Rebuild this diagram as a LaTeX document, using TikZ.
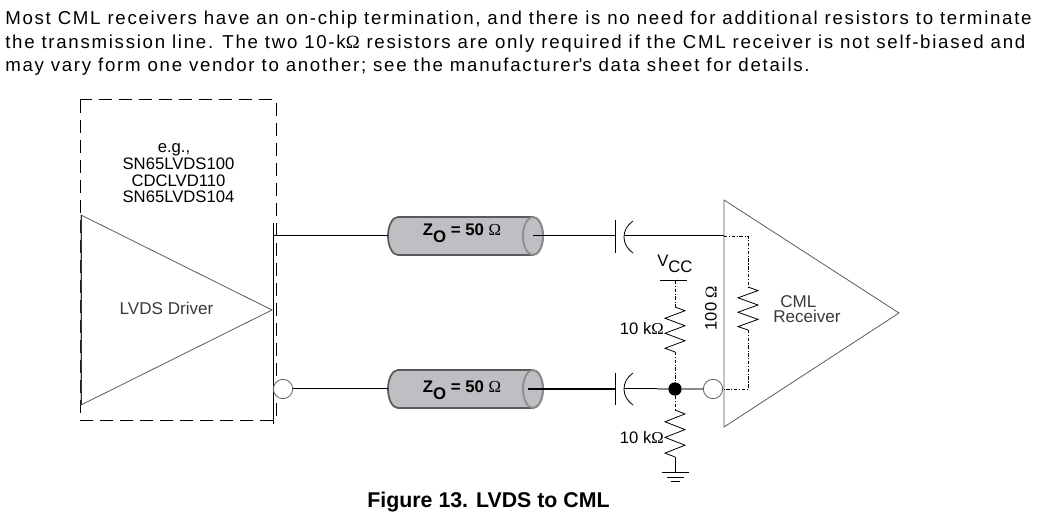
\documentclass[tikz,border=0pt]{standalone}
\usepackage{fontspec}
\setmainfont{Liberation Sans}
\newfontfamily\symf{Liberation Serif}
\newfontfamily\parafont[LetterSpace=9.2]{Liberation Sans}
\definecolor{cylfill}{HTML}{BEBEC3}
\definecolor{cylline}{HTML}{5A5A5A}
\definecolor{cylend}{HTML}{8C8C8C}
\definecolor{tri}{HTML}{5C5C5C}
\definecolor{txtgray}{HTML}{3A3A3A}
\definecolor{wiregray}{HTML}{8A8A8A}
\begin{document}
\begin{tikzpicture}[x=0.75pt,y=-0.75pt,
  wire/.style={line width=0.75pt, black},
  thickwire/.style={line width=1.6pt, black},
  graywire/.style={line width=1pt, wiregray},
  dashdot/.style={line width=0.6pt, dash pattern=on 2.6pt off 1.2pt on 0.8pt off 1.2pt},
  boxdash/.style={line width=0.75pt, dash pattern=on 10pt off 5pt},
  txt/.style={inner sep=0pt, font=\fontsize{12.5pt}{15pt}\selectfont},
  egline/.style={inner sep=0pt, anchor=base, font=\fontsize{12.5pt}{15pt}\selectfont},
  para/.style={inner sep=0pt, anchor=base west, font=\parafont\fontsize{14pt}{16pt}\selectfont},
  bubble/.style={circle, draw=tri, line width=0.6pt, fill=white, inner sep=0pt, minimum size=14.5pt},
  coax/.pic={
    \filldraw[fill=cylfill, draw=cylline, line width=1.3pt]
      (-67.5,-19) -- (67.5,-19) arc[start angle=90, end angle=-90, x radius=7.5pt, y radius=14.25pt]
      -- (-67.5,19) arc[start angle=270, end angle=90, x radius=7.5pt, y radius=14.25pt] -- cycle;
    \draw[cylend, line width=1.3pt] (67.5,0) ellipse[x radius=7.5pt, y radius=14.25pt];
  }]
\useasboundingbox (0,0) rectangle (1043,527);
\fill[white] (0,0) rectangle (1043,527);

% paragraph
\node[para] (p1) at (5,25) {Most CML receivers have an on-chip termination, and there is no need for additional resistors to terminate};
\node[para] (p2) at (5,49) {the transmission line. The two 10-k{\symf Ω} resistors are only required if the CML receiver is not self-biased and};
\node[para] (p3) at (5,72) {may vary form one vendor to another; see the manufacturer\textquotesingle s data sheet for details.};

% caption
\node[inner sep=0pt, anchor=base, font=\bfseries\fontsize{16pt}{18pt}\selectfont] (cap) at (488.5,507) {Figure 13. LVDS to CML};

% dashed box of driver
\draw[boxdash] (80,100) rectangle (276,420);
\node[egline] (eg1) at (174,153) {e.g.,};
\node[egline] (eg2) at (178.5,170) {SN65LVDS100};
\node[egline] (eg3) at (178.5,187) {CDCLVD110};
\node[egline] (eg4) at (178.5,203) {SN65LVDS104};

% driver triangle
\draw[tri, line width=0.6pt] (81,215) -- (272,310) -- (81,405) -- cycle;
\draw[black!80, line width=0.75pt] (81,215) -- (81,405);
\node[txt, text=txtgray, font=\fontsize{12.8pt}{15pt}\selectfont] (drv) at (166.5,308) {LVDS Driver};
\draw[wire] (273,223) -- (273,424);
\coordinate (dout1) at (273,236);
\node[bubble] (dout2) at (283,389) {};

% coax cables
\pic at (465.5,236) {coax};
\pic at (465.5,389) {coax};
\coordinate (c1in) at (388,236);
\coordinate (c1out) at (533,236);
\coordinate (c2in) at (388,389);
\coordinate (c2out) at (528,389);
\node[inner sep=0pt, font=\bfseries\fontsize{12.6pt}{15pt}\selectfont] (z1) at (462,233) {Z\raisebox{-5pt}{O} = 50 {\symf\mdseries Ω}};
\node[inner sep=0pt, font=\bfseries\fontsize{12.6pt}{15pt}\selectfont] (z2) at (462,390) {Z\raisebox{-5pt}{O} = 50 {\symf\mdseries Ω}};

\draw[wire] (dout1) -- (c1in);
\draw[wire] (dout2.east) -- (c2in);

% capacitors
\coordinate (cap1a) at (615,236);
\coordinate (cap1b) at (624,236);
\coordinate (cap2a) at (615,389);
\coordinate (cap2b) at (624,389);
\draw[wire] (615,220) -- (615,253);
\draw[wire, line width=0.6pt] (633,221) .. controls (621,229) and (621,245) .. (633,253);
\draw[wire] (615,373) -- (615,405);
\draw[wire, line width=0.6pt] (633,373) .. controls (621,381) and (621,397) .. (633,405);
\draw[wire] (c1out) -- (cap1a);
\draw[thickwire] (c2out) -- (cap2a);

% receiver
\draw[tri, line width=0.6pt] (724,200) -- (899,313) -- (724,427) -- cycle;
\node[txt, text=txtgray, font=\fontsize{12.8pt}{15pt}\selectfont, anchor=base west] (rx1) at (780,308) {CML};
\node[txt, text=txtgray, font=\fontsize{12.8pt}{15pt}\selectfont, anchor=base west] (rx2) at (773,323) {Receiver};
\coordinate (rin1) at (724,236);
\node[bubble] (rin2) at (713,389) {};

% top signal into receiver
\draw[wire] (cap1b) -- (rin1);

% bottom signal with bias node
\node[circle, fill=black, inner sep=0pt, minimum size=10pt] (dot) at (675,389) {};
\coordinate (gmid) at (657,389);
\draw[wire] (cap2b) -- (gmid);
\draw[graywire] (gmid) -- (dot);
\draw[graywire] (dot) -- (rin2.west);

% internal 100 ohm termination
\coordinate (rt1) at (748,287);
\coordinate (rt2) at (748,330);
\draw[dashdot] (rin1) -- (748,236) -- (rt1);
\draw[line width=0.6pt] (rt1) -- (758,290.6) -- (738,297.8) -- (758,305) -- (738,312.2) -- (758,319.4) -- (738,326.6) -- (rt2);
\draw[dashdot] (rt2) -- (748,389) -- (rin2.east);
\node[txt, rotate=90, font=\fontsize{12.4pt}{15pt}\selectfont] (r100) at (711,308) {100 {\symf Ω}};

% Vcc and pull-up
\coordinate (vcc) at (675,281);
\draw[line width=0.75pt] (660,281) -- (687,281);
\node[inner sep=0pt, anchor=base west, font=\fontsize{12.5pt}{15pt}\selectfont] (vcct) at (657,267) {V\raisebox{-4.5pt}{CC}};
\coordinate (ru1) at (675,307);
\coordinate (ru2) at (675,352);
\draw[dashdot] (vcc) -- (ru1);
\draw[line width=0.6pt] (ru1) -- (685,310.75) -- (665,318.25) -- (685,325.75) -- (665,333.25) -- (685,340.75) -- (665,348.25) -- (ru2);
\draw[dashdot] (ru2) -- (dot);
\node[inner sep=0pt, anchor=base east, font=\fontsize{12.5pt}{15pt}\selectfont] (rut) at (664,335) {10 k{\symf Ω}};

% pull-down
\coordinate (rd1) at (675,410);
\coordinate (rd2) at (675,457);
\draw[dashdot] (dot) -- (rd1);
\draw[line width=0.6pt] (rd1) -- (685,413.9) -- (665,421.8) -- (685,429.6) -- (665,437.4) -- (685,445.2) -- (665,453.1) -- (rd2);
\node[inner sep=0pt, anchor=base east, font=\fontsize{12.5pt}{15pt}\selectfont] (rdt) at (664,443) {10 k{\symf Ω}};
\coordinate (gnd) at (675,472);
\draw[line width=0.75pt] (rd2) -- (gnd);
\draw[line width=0.75pt] (662,472) -- (689,472);
\draw[line width=0.75pt] (667,477) -- (684,477);
\draw[line width=0.75pt] (671,481.5) -- (680,481.5);
\end{tikzpicture}
\end{document}
